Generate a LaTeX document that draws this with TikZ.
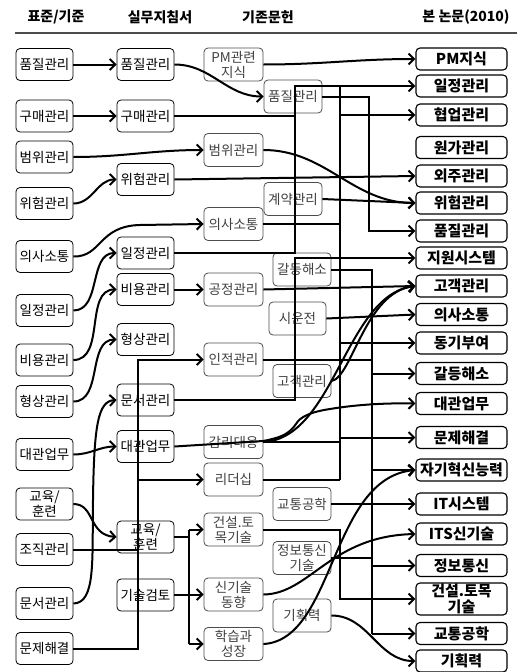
\documentclass[tikz,border=0pt]{standalone}
\usepackage{fontspec}
\setmainfont{Noto Sans CJK KR}
\usetikzlibrary{arrows.meta,calc}
\begin{document}
\begin{tikzpicture}[x=1pt,y=-1pt,
  bx/.style={draw, rounded corners=4pt, line width=0.8pt, inner sep=0pt, align=center,
     font=\fontsize{13.5}{15}\selectfont},
  bA/.style={bx, minimum width=57pt, minimum height=32pt},
  bC/.style={bx, draw=black!70, text=black!75, minimum width=59pt, minimum height=33pt},
  bD/.style={draw, rounded corners=4pt, line width=1.1pt, inner sep=0pt, align=center,
     font=\fontsize{15}{15.5}\selectfont\bfseries, minimum width=91pt, minimum height=22pt},
  hd/.style={font=\fontsize{14}{15}\selectfont\bfseries, inner sep=0pt},
  ln/.style={line width=2pt},
  arr/.style={ln, -{Straight Barb[length=5.5pt,width=11pt]}}]
\useasboundingbox (0,0) rectangle (520,672);
% headers
\node[hd] (h1) at (56,17) {표준/기준};
\node[hd] (h2) at (160,17) {실무지침서};
\node[hd] (h3) at (268,17) {기존문헌};
\node[hd] (h4) at (466,17) {본 논문(2010)};
\draw[black!70, line width=1.2pt] (15,33) -- (517,33);
% column 1
\node[bA] (c1a) at (44.5,64.5) {품질관리};
\node[bA] (c1b) at (44.5,116) {구매관리};
\node[bA] (c1c) at (44.5,157) {범위관리};
\node[bA] (c1d) at (44.5,203.5) {위험관리};
\node[bA] (c1e) at (44.5,256.5) {의사소통};
\node[bA] (c1f) at (44.5,310.5) {일정관리};
\node[bA] (c1g) at (44.5,360) {비용관리};
\node[bA] (c1h) at (44.5,401.5) {형상관리};
\node[bA] (c1i) at (44.5,454.5) {대관업무};
\node[bA] (c1j) at (44.5,504) {교육/\\훈련};
\node[bA] (c1k) at (44.5,549.5) {조직관리};
\node[bA] (c1l) at (44.5,603.5) {문서관리};
\node[bA] (c1m) at (44.5,648.5) {문제해결};
% column 2
\node[bA] (c2a) at (145.5,64.5) {품질관리};
\node[bA] (c2b) at (145.5,116) {구매관리};
\node[bA] (c2c) at (145.5,179.5) {위험관리};
\node[bA] (c2d) at (145.5,253) {일정관리};
\node[bA] (c2e) at (145.5,289.5) {비용관리};
\node[bA] (c2f) at (145.5,339.5) {형상관리};
\node[bA] (c2g) at (145.5,400) {문서관리};
\node[bA] (c2h) at (145.5,446.5) {대관업무};
\node[bA] (c2i) at (145.5,537) {교육/\\훈련};
\node[bA] (c2j) at (145.5,595) {기술검토};
% column 3 left
\node[bC] (d1) at (233.5,64.5) {PM관련\\지식};
\node[bC] (d2) at (233.5,150) {범위관리};
\node[bC] (d3) at (233.5,224) {의사소통};
\node[bC] (d4) at (233.5,289.5) {공정관리};
\node[bC] (d5) at (233.5,359.5) {인적관리};
\node[bC] (d6) at (233.5,442) {감리대응};
\node[bC] (d7) at (233.5,479.5) {리더십};
\node[bC] (d8) at (233.5,529.5) {건설.토\\목기술};
\node[bC] (d9) at (233.5,594.5) {신기술\\동향};
\node[bC] (d10) at (233.5,644) {학습과\\성장};
% column 3 right
\node[bC, minimum width=58pt] (e1) at (293,96.5) {품질관리};
\node[bC, minimum width=58pt] (e2) at (293,199) {계약관리};
\node[bC, minimum width=58pt] (e3) at (302,269.5) {갈등해소};
\node[bC, minimum width=57pt] (e4) at (297.5,318.5) {시운전};
\node[bC, minimum width=58pt] (e5) at (302,381) {고객관리};
\node[bC, minimum width=58pt] (e6) at (302,504) {교통공학};
\node[bC, minimum width=58pt] (e7) at (302,558) {정보통신\\기술};
\node[bC, minimum width=58pt] (e8) at (302,615.5) {기획력};
% column 4
\node[bD] (f1) at (461.5,59) {PM지식};
\node[bD] (f2) at (461.5,86) {일정관리};
\node[bD] (f3) at (461.5,115) {협업관리};
\node[bD] (f4) at (461.5,147.5) {원가관리};
\node[bD] (f5) at (461.5,176) {외주관리};
\node[bD] (f6) at (461.5,203) {위험관리};
\node[bD] (f7) at (461.5,231) {품질관리};
\node[bD] (f8) at (461.5,258) {지원시스템};
\node[bD] (f9) at (461.5,286) {고객관리};
\node[bD] (f10) at (461.5,314.5) {의사소통};
\node[bD] (f11) at (461.5,343) {동기부여};
\node[bD] (f12) at (461.5,373.5) {갈등해소};
\node[bD] (f13) at (461.5,403.5) {대관업무};
\node[bD] (f14) at (461.5,437.5) {문제해결};
\node[bD] (f15) at (461.5,470) {자기혁신능력};
\node[bD] (f16) at (461.5,504) {IT시스템};
\node[bD] (f17) at (461.5,534) {ITS신기술};
\node[bD] (f18) at (461.5,565.5) {정보통신};
\node[bD, minimum height=32pt] (f19) at (461.5,599) {건설.토목\\기술};
\node[bD] (f20) at (461.5,633.5) {교통공학};
\node[bD] (f21) at (461.5,661) {기획력};
% bus x positions
\coordinate (V1) at (138,0);
\coordinate (V2) at (189,0);
\coordinate (VA) at (295,0);
\coordinate (VB) at (340,0);
\coordinate (VQ) at (369,0);
\coordinate (VC) at (372,0);
% column 1 -> column 2 / 3
\draw[arr] (c1a.east) -- (c2a.west);
\draw[arr] (c1b.east) -- (c2b.west);
\draw[arr] (c1c.east) to[out=0,in=180] (d2.west);
\draw[arr] (c1d.east) to[out=0,in=180] (c2c.west);
\draw[arr] (c1e.east) .. controls (102,257) and (98,226) .. (140,225) -- (d3.west);
\draw[arr] (c1f.east) to[out=0,in=180] (c2d.west);
\draw[arr] (c1g.east) to[out=0,in=180] (c2e.west);
\draw[arr] (c1h.east) to[out=0,in=180] (c2f.west);
\draw[arr] (c1i.east) to[out=0,in=180] (c2h.west);
\draw[arr] (c1j.east) .. controls (95,504) and (88,535) .. (c2i.west);
\draw[ln] (c1k.east) -- (c1k.east -| V1);
\draw[arr] (c1l.east) .. controls (96,603) and (92,560) .. (93,500) .. controls (94,425) and (98,401) .. (c2g.west);
\draw[arr] (c1m.east) -- (c1m.east -| V1) |- (d5.west);
\draw[arr] (d7.west -| V1) -- (d7.west);
% column 2 -> right
\draw[arr] (c2a.east) to[out=0,in=180] (e1.west);
\draw[arr] (d1.east) to[out=0,in=180] (f1.west);
\draw[ln] (c2b.east) -- (c2b.east -| VA);
\draw[arr] (c2d.east) -- (c2d.east -| VA) |- (f2.west);
\draw[arr] (c2c.east) -- (f5.west);
\draw[arr] (d2.east) to[out=0,in=180] (f6.west);
\draw[arr] (e2.east) -- (f6.west);
\draw[arr] (e1.east) -- (e1.east -| VQ) |- (f7.west);
\draw[arr] (c2e.east) -- (d4.west);
\draw[arr] (d4.east) -- (f9.west);
\draw[arr] (c2g.east) -- (c2g.east -| VA) |- (f8.west);
% bus B
\draw[ln] (VB |- f2.west) -- (VB |- d7.east);
\draw[ln] (d3.east) -- (d3.east -| VB);
\draw[ln] (d6.east) -- (d6.east -| VB);
\draw[ln] (d7.east) -- (d7.east -| VB);
\draw[arr] (VB |- f3.west) -- (f3.west);
\draw[arr] (VB |- f11.west) -- (f11.west);
\draw[arr] (VB |- f14.west) -- (f14.west);
% bus C
\draw[ln] (e3.east) -- (e3.east -| VC) -- (VC |- f20.west);
\draw[ln] (d5.east) -- (d5.east -| VC);
\draw[ln] (e7.east) -- (e7.east -| VC);
\draw[arr] (e4.east) -- (f10.west);
\draw[arr] (VC |- f12.west) -- (f12.west);
\draw[arr] (VC |- f15.west) -- (f15.west);
\draw[arr] (VC |- f18.west) -- (f18.west);
\draw[arr] (VC |- f20.west) -- (f20.west);
% curves into customer management etc.
\draw[arr] (e5.east) .. controls (352,378) and (365,292) .. (f9.west);
\draw[arr] (d6.east) .. controls (335,438) and (345,295) .. (f9.west);
\draw[arr] (c2h.east) -- (263,441) .. controls (285,437) and (290,432) .. (296,424) .. controls (300,417) and (310,412) .. (330,409) .. controls (360,404) and (390,403) .. (f13.west);
\draw[arr] (e6.east) -- (f16.west);
\draw[arr] (d8.east) -- (d8.east -| VB) |- (f19.west);
\draw[arr] (d9.east) .. controls (310,594) and (330,536) .. (f17.west);
\draw[arr] (d10.east) .. controls (335,640) and (330,478) .. (f15.west);
\draw[arr] (e8.east) to[out=0,in=180] (f21.west);
% bus 2
\draw[ln] (c2i.east) -- (c2i.east -| V2);
\draw[ln] (c2j.east) -- (c2j.east -| V2);
\draw[ln] (V2 |- d8.west) -- (V2 |- d10.west);
\draw[arr] (V2 |- d8.west) -- (d8.west);
\draw[arr] (V2 |- d9.west) -- (d9.west);
\draw[arr] (V2 |- d10.west) -- (d10.west);
\end{tikzpicture}
\end{document}
